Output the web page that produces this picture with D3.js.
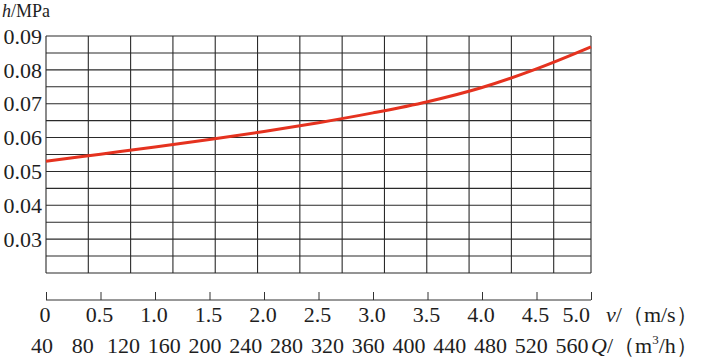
<!DOCTYPE html>
<html><head><meta charset="utf-8">
<script src="https://cdn.jsdelivr.net/npm/d3@7"></script>
<style>
body{margin:0;background:#fff;}
svg text{font-family:"Liberation Serif","Times New Roman",serif;fill:#1e1e1e;}
</style></head>
<body>
<svg id="c" width="723" height="359"></svg>
<script>
// Data
const vValues = [0, 0.5, 1.0, 1.5, 2.0, 2.5, 3.0, 3.5, 4.0, 4.5, 5.0];
const hValues = [0.0530, 0.0551, 0.0572, 0.0594, 0.0618, 0.0644, 0.0673, 0.0706, 0.0748, 0.0803, 0.0868];
const yTicks = [0.03, 0.04, 0.05, 0.06, 0.07, 0.08, 0.09];
const yGrid = [0.02, 0.025, 0.03, 0.035, 0.04, 0.045, 0.05, 0.055, 0.06, 0.065, 0.07, 0.075, 0.08, 0.085, 0.09];
const vTicks = [0, 0.5, 1.0, 1.5, 2.0, 2.5, 3.0, 3.5, 4.0, 4.5, 5.0];
const qGrid = [40, 80, 120, 160, 200, 240, 280, 320, 360, 400, 440, 480, 520];
const qLabels = [40, 80, 120, 160, 200, 240, 280, 320, 360, 400, 440, 480, 520, 560];

const svg = d3.select("#c");
const x = d3.scaleLinear().domain([0, 5]).range([46, 591]);
const y = d3.scaleLinear().domain([0.02, 0.09]).range([273, 36]);
const xGrid = d3.scaleLinear().domain([40, 560]).range([46, 596]);
const xQLab = d3.scaleLinear().domain([40, 560]).range([42, 572]);

const gridColor = "#2a2a2a";
// horizontal grid
svg.append("g").selectAll("line").data(yGrid).join("line")
  .attr("x1", x(0)).attr("x2", x(5))
  .attr("y1", d => y(d)).attr("y2", d => y(d))
  .attr("stroke", gridColor).attr("stroke-width", 1.1);
// vertical grid
svg.append("g").selectAll("line").data(qGrid).join("line")
  .attr("x1", d => xGrid(d)).attr("x2", d => xGrid(d))
  .attr("y1", y(0.02)).attr("y2", y(0.09))
  .attr("stroke", gridColor).attr("stroke-width", 1.1);
// right frame
svg.append("line").attr("x1", x(5)).attr("x2", x(5)).attr("y1", y(0.02)).attr("y2", y(0.09))
  .attr("stroke", gridColor).attr("stroke-width", 1.1);

// y tick labels
svg.append("g").selectAll("text").data(yTicks).join("text")
  .attr("x", 42).attr("y", d => y(d)).attr("dy", "0.35em")
  .attr("text-anchor", "end").attr("font-size", 22)
  .text(d => d.toFixed(2));

// y title
const yt = svg.append("text").attr("x", 2).attr("y", 17).attr("font-size", 18);
yt.append("tspan").attr("font-style", "italic").text("h");
yt.append("tspan").text("/MPa");

// curve
const line = d3.line().x((d, i) => x(vValues[i])).y(d => y(d)).curve(d3.curveCatmullRom.alpha(0.5));
svg.append("path").datum(hValues).attr("d", line)
  .attr("fill", "none").attr("stroke", "#e5321f").attr("stroke-width", 3);

// v axis
const axisY = 300;
const vAxis = d3.axisTop(x).tickValues(vTicks).tickSize(8).tickFormat("");
const ga = svg.append("g").attr("transform", `translate(0,${axisY})`).call(vAxis);
ga.select(".domain").attr("stroke", "#333").attr("d", `M${x(0)},0H${x(5)}`);
ga.selectAll(".tick line").attr("stroke", "#333");

svg.append("g").selectAll("text").data(vTicks).join("text")
  .attr("x", d => d === 5 ? x(d) - 1 : x(d) - 1).attr("y", 322)
  .attr("text-anchor", d => d === 5 ? "end" : "middle").attr("font-size", 22)
  .text(d => d === 0 ? "0" : d.toFixed(1));

const vt = svg.append("text").attr("x", 606).attr("y", 322).attr("font-size", 22);
vt.append("tspan").attr("font-style", "italic").text("v");
vt.append("tspan").text("/（m/s）");

// Q labels
svg.append("g").selectAll("text").data(qLabels).join("text")
  .attr("x", d => xQLab(d)).attr("y", 353)
  .attr("text-anchor", "middle").attr("font-size", 22)
  .text(d => d);

const qt = svg.append("text").attr("x", 591).attr("y", 353).attr("font-size", 22);
qt.append("tspan").attr("font-style", "italic").text("Q");
qt.append("tspan").text("/（m");
qt.append("tspan").attr("font-size", 13).attr("dy", -9).text("3");
qt.append("tspan").attr("dy", 9).text("/h）");
</script>
</body></html>
